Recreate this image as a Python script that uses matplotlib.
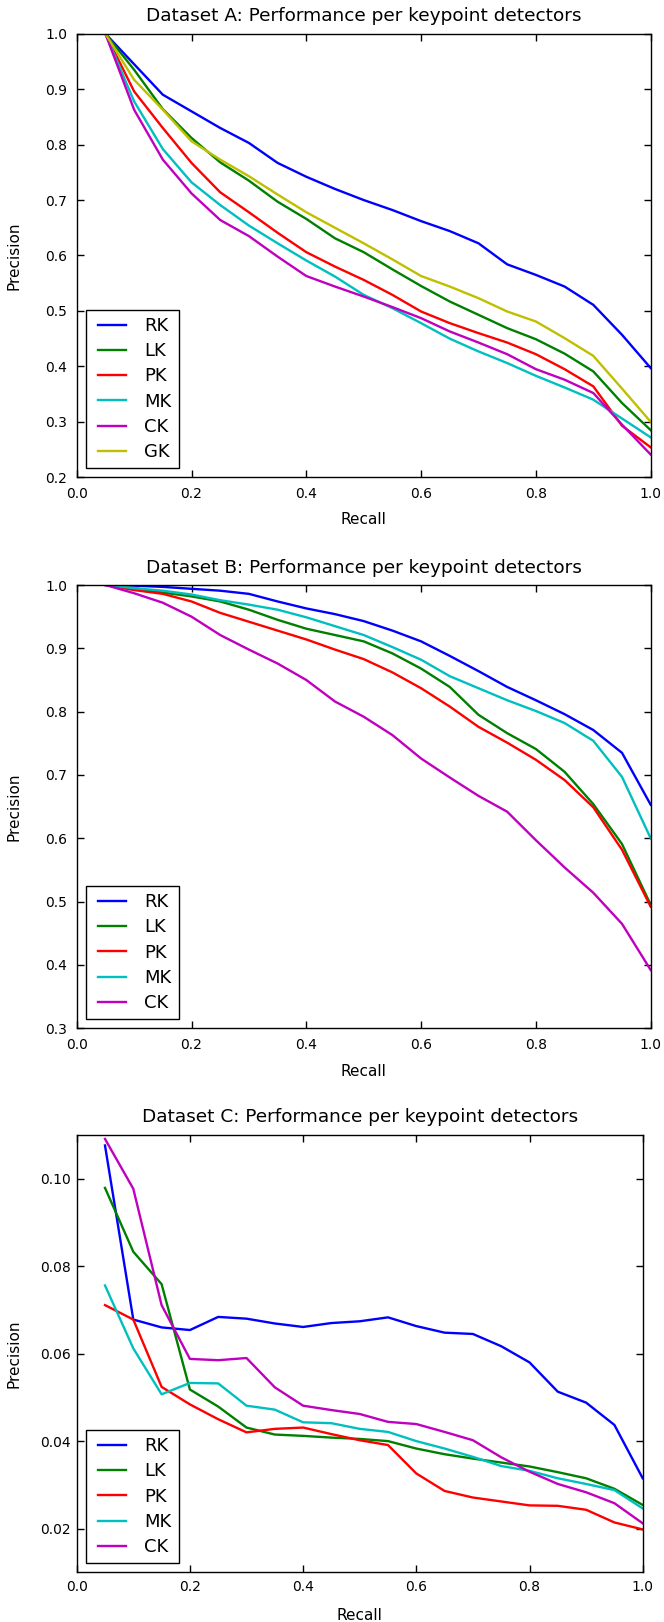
import matplotlib
matplotlib.use("Agg")
import matplotlib.pyplot as plt
from matplotlib.lines import Line2D
from matplotlib.legend_handler import HandlerLine2D

plt.rcParams['font.family'] = ['DejaVu Sans']

recall = [0.05, 0.10, 0.15, 0.20, 0.25, 0.30, 0.35, 0.40, 0.45, 0.50,
          0.55, 0.60, 0.65, 0.70, 0.75, 0.80, 0.85, 0.90, 0.95, 1.00]

# Dataset A
RK_A = [1.0, 0.945, 0.89, 0.86, 0.83, 0.803, 0.767, 0.742, 0.72, 0.70, 0.682, 0.662, 0.644, 0.622, 0.584, 0.565, 0.544, 0.511, 0.457, 0.397]
LK_A = [1.0, 0.935, 0.864, 0.812, 0.768, 0.735, 0.697, 0.666, 0.631, 0.606, 0.575, 0.545, 0.517, 0.493, 0.469, 0.449, 0.423, 0.391, 0.334, 0.285]
PK_A = [1.0, 0.896, 0.83, 0.767, 0.714, 0.678, 0.641, 0.606, 0.58, 0.556, 0.529, 0.499, 0.478, 0.46, 0.443, 0.422, 0.395, 0.364, 0.293, 0.254]
MK_A = [1.0, 0.878, 0.792, 0.732, 0.691, 0.654, 0.622, 0.591, 0.562, 0.529, 0.505, 0.478, 0.450, 0.427, 0.406, 0.383, 0.362, 0.34, 0.306, 0.272]
CK_A = [1.0, 0.863, 0.773, 0.712, 0.664, 0.635, 0.598, 0.563, 0.544, 0.526, 0.507, 0.487, 0.463, 0.443, 0.422, 0.395, 0.376, 0.352, 0.295, 0.241]
GK_A = [1.0, 0.917, 0.863, 0.806, 0.773, 0.743, 0.71, 0.678, 0.65, 0.622, 0.593, 0.563, 0.544, 0.523, 0.499, 0.481, 0.451, 0.419, 0.36, 0.30]

# Dataset B
RK_B = [1.0, 0.999, 0.997, 0.994, 0.991, 0.986, 0.974, 0.963, 0.954, 0.943, 0.928, 0.911, 0.888, 0.864, 0.839, 0.818, 0.796, 0.771, 0.735, 0.653]
LK_B = [1.0, 0.995, 0.988, 0.982, 0.974, 0.961, 0.945, 0.931, 0.921, 0.911, 0.892, 0.868, 0.839, 0.795, 0.766, 0.741, 0.705, 0.654, 0.591, 0.495]
PK_B = [1.0, 0.992, 0.986, 0.974, 0.956, 0.942, 0.928, 0.914, 0.898, 0.883, 0.862, 0.837, 0.808, 0.776, 0.751, 0.724, 0.692, 0.649, 0.582, 0.492]
MK_B = [1.0, 0.995, 0.991, 0.985, 0.976, 0.969, 0.961, 0.949, 0.935, 0.921, 0.902, 0.882, 0.856, 0.837, 0.818, 0.801, 0.782, 0.754, 0.697, 0.60]
CK_B = [1.0, 0.987, 0.972, 0.95, 0.921, 0.898, 0.876, 0.85, 0.816, 0.792, 0.763, 0.726, 0.696, 0.667, 0.642, 0.597, 0.554, 0.514, 0.465, 0.392]

# Dataset C
RK_C = [0.1076, 0.0678, 0.0660, 0.0654, 0.0684, 0.0680, 0.0669, 0.0661, 0.0670, 0.0674, 0.0683, 0.0663, 0.0648, 0.0645, 0.0617, 0.0580, 0.0513, 0.0488, 0.0437, 0.0315]
LK_C = [0.0979, 0.0833, 0.0759, 0.0518, 0.0479, 0.0431, 0.0415, 0.0412, 0.0408, 0.0405, 0.0400, 0.0383, 0.0370, 0.0360, 0.0351, 0.0342, 0.0329, 0.0315, 0.0291, 0.0254]
PK_C = [0.0711, 0.0678, 0.0524, 0.0484, 0.0450, 0.0420, 0.0428, 0.0431, 0.0416, 0.0402, 0.0391, 0.0326, 0.0286, 0.0271, 0.0262, 0.0253, 0.0252, 0.0243, 0.0214, 0.0198]
MK_C = [0.0756, 0.0612, 0.0507, 0.0533, 0.0532, 0.0481, 0.0472, 0.0443, 0.0441, 0.0428, 0.0421, 0.0400, 0.0383, 0.0364, 0.0343, 0.0332, 0.0315, 0.0302, 0.0288, 0.0246]
CK_C = [0.1091, 0.0977, 0.0711, 0.0588, 0.0585, 0.0590, 0.0523, 0.0481, 0.0471, 0.0462, 0.0444, 0.0439, 0.0421, 0.0402, 0.0363, 0.0330, 0.0302, 0.0283, 0.0258, 0.0212]

labels_A = ['RK', 'LK', 'PK', 'MK', 'CK', 'GK']
labels_BC = ['RK', 'LK', 'PK', 'MK', 'CK']
colors = ['#0000ff', '#008000', '#ff0000', '#00bfbf', '#bf00bf', '#bfbf00']

xticks = [0.0, 0.2, 0.4, 0.6, 0.8, 1.0]
yticks_A = [0.2, 0.3, 0.4, 0.5, 0.6, 0.7, 0.8, 0.9, 1.0]
yticks_B = [0.3, 0.4, 0.5, 0.6, 0.7, 0.8, 0.9, 1.0]
yticks_C = [0.02, 0.04, 0.06, 0.08, 0.10]

W, H = 664, 1622
fig = plt.figure(figsize=(W / 100, H / 100), dpi=100)
fig.patch.set_facecolor('white')


def make_axes(left, top, right, bottom):
    return fig.add_axes([left / W, 1 - bottom / H, (right - left) / W, (bottom - top) / H])


def style(ax, title, ylim, yticks, yfmt, xpad, ypad, top, bottom, left, right):
    ax.set_xlim(0.0, 1.0)
    ax.set_ylim(*ylim)
    ax.set_xticks(xticks)
    ax.set_xticklabels(['%.1f' % t for t in xticks])
    ax.set_yticks(yticks)
    ax.set_yticklabels([yfmt % t for t in yticks])
    ax.tick_params(axis='both', which='major', direction='in', top=True, right=True,
                   length=5, width=1.0, labelsize=10, colors='black')
    ax.tick_params(axis='x', pad=xpad)
    ax.tick_params(axis='y', pad=ypad)
    for s in ax.spines.values():
        s.set_linewidth(1.0)
        s.set_color('black')
    ax.set_title(title, fontsize=13.3, pad=9)
    h = bottom - top
    w = right - left
    ax.set_xlabel('Recall', fontsize=11)
    ax.xaxis.set_label_coords(0.5, -(512.5 - 477.3) / h)
    ax.set_ylabel('Precision', fontsize=11)
    ax.yaxis.set_label_coords(-(76.7 - 21.5) / w, 0.5)


def legend(ax):
    leg = ax.legend(loc='lower left', fontsize=13, frameon=True, fancybox=False,
                    borderpad=0.4, handlelength=1.85, handletextpad=1.0,
                    labelspacing=0.4, borderaxespad=0.5,
                    handler_map={Line2D: HandlerLine2D(xpad=0.3)})
    fr = leg.get_frame()
    fr.set_edgecolor('black')
    fr.set_linewidth(1.0)
    fr.set_facecolor('white')
    fr.set_alpha(1.0)


lw = 1.7

# Panel A
axA = make_axes(76.7, 33.7, 650.7, 477.3)
for ys, lab, c in zip([RK_A, LK_A, PK_A, MK_A, CK_A, GK_A], labels_A, colors):
    axA.plot(recall, ys, color=c, lw=lw, label=lab)
style(axA, 'Dataset A: Performance per keypoint detectors', (0.2, 1.0), yticks_A, '%.1f',
      7, 7, 33.7, 477.3, 76.7, 650.7)
legend(axA)

# Panel B
axB = make_axes(76.7, 585.0, 650.7, 1028.3)
for ys, lab, c in zip([RK_B, LK_B, PK_B, MK_B, CK_B], labels_BC, colors):
    axB.plot(recall, ys, color=c, lw=lw, label=lab)
style(axB, 'Dataset B: Performance per keypoint detectors', (0.3, 1.0), yticks_B, '%.1f',
      7, 7, 585.0, 1028.3, 76.7, 650.7)
legend(axB)

# Panel C
axC = make_axes(76.7, 1135.0, 642.7, 1572.3)
for ys, lab, c in zip([RK_C, LK_C, PK_C, MK_C, CK_C], labels_BC, colors):
    axC.plot(recall, ys, color=c, lw=lw, label=lab)
style(axC, 'Dataset C: Performance per keypoint detectors', (0.01, 0.11), yticks_C, '%.2f',
      5.5, 4, 1135.0, 1572.3, 76.7, 642.7)
legend(axC)

fig.savefig('out.png', dpi=100, facecolor='white')
